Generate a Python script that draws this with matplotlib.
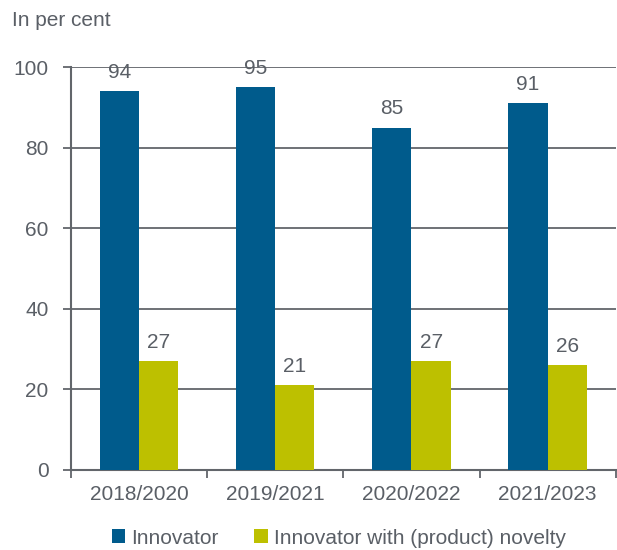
import matplotlib
matplotlib.use("Agg")
import matplotlib.pyplot as plt
import numpy as np

periods = ["2018/2020", "2019/2021", "2020/2022", "2021/2023"]
innovator = [94, 95, 85, 91]
novelty = [27, 21, 27, 26]
series_names = ["Innovator", "Innovator with (product) novelty"]
y_ticks = [0, 20, 40, 60, 80, 100]

BLUE = "#005b8c"
YELLOW = "#bdc000"
TEXT = "#5a5f66"
LINE = "#62666b"
FS = 15

plt.rcParams["font.family"] = ["Liberation Sans", "DejaVu Sans"]

fig = plt.figure(figsize=(6.17, 5.5), dpi=100)
ax = fig.add_axes([0.115, 0.1455, 0.883, 0.7325])

x = np.arange(len(periods))
w = 0.288
b1 = ax.bar(x - w / 2, innovator, width=w, color=BLUE, label=series_names[0], zorder=3)
b2 = ax.bar(x + w / 2, novelty, width=w, color=YELLOW, label=series_names[1], zorder=3)

for rects, vals in ((b1, innovator), (b2, novelty)):
    for r, v in zip(rects, vals):
        ax.text(r.get_x() + r.get_width() / 2, v + 2.4, f"{v}", ha="center", va="bottom",
                fontsize=FS, color=TEXT)

ax.set_xlim(-0.5, len(periods) - 0.5)
ax.set_ylim(0, 100)
ax.set_yticks(y_ticks)
ax.set_yticklabels([str(t) for t in y_ticks])
ax.yaxis.grid(True, color=LINE, linewidth=1.3, zorder=0)
ax.set_axisbelow(True)

ax.set_xticks(x)
ax.set_xticklabels(periods)
ax.set_xticks(np.arange(len(periods) + 1) - 0.5, minor=True)
ax.tick_params(axis="x", which="major", length=0, pad=11, labelsize=FS, labelcolor=TEXT)
ax.tick_params(axis="x", which="minor", length=6, width=1.3, color=LINE, direction="out")
ax.tick_params(axis="y", length=6, width=1.3, color=LINE, pad=10, labelsize=FS, labelcolor=TEXT)

for s in ("top", "right"):
    ax.spines[s].set_visible(False)
for s in ("left", "bottom"):
    ax.spines[s].set_color(LINE)
    ax.spines[s].set_linewidth(1.5)

fig.text(12 / 617, 1 - 20 / 550, "In per cent", ha="left", va="center", fontsize=FS, color=TEXT)

fig.legend(handles=[b1, b2], loc="center", bbox_to_anchor=(339 / 617, 1 - 538 / 550), ncol=2,
           frameon=False, fontsize=FS, labelcolor=TEXT, handlelength=0.65, handleheight=0.65,
           handletextpad=0.3, columnspacing=1.7, borderaxespad=0)

fig.savefig("out.png", dpi=100)
